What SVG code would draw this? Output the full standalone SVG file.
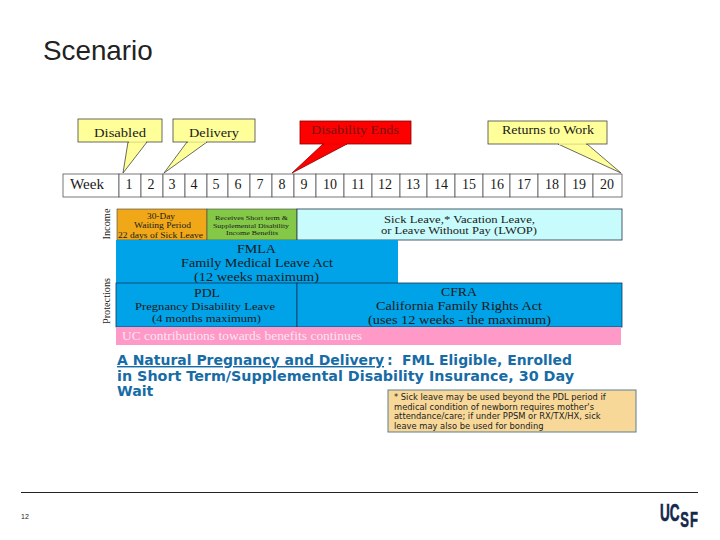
<svg xmlns="http://www.w3.org/2000/svg" width="720" height="540" viewBox="0 0 720 540">
<style>
.s{font-family:"Liberation Serif",serif;fill:#1a1a1a;text-anchor:middle}
.t{font-family:"Liberation Serif",serif;fill:#1a1a1a;text-anchor:start}
.cell{fill:#fff;stroke:#555;stroke-width:.8}
.yl{fill:#ffff99;stroke:#444;stroke-width:.8}
.bl{fill:#00a2e8;stroke:#15385a;stroke-width:.8}
.h{font-family:"DejaVu Sans",sans-serif;font-weight:700;font-size:14.2px;fill:#176ca6}
.n{font-family:"DejaVu Sans",sans-serif;font-size:8.35px;fill:#222}
</style>
<rect width="720" height="540" fill="#fff"/>
<text x="43" y="60" font-family="Liberation Sans,sans-serif" font-size="27.8" fill="#222">Scenario</text>
<g id="week-row">
<rect class="cell" x="63" y="174" width="56" height="23"/>
<g id="week-cells">
<rect class="cell" x="119" y="174" width="22" height="23"/><rect class="cell" x="141" y="174" width="22" height="23"/><rect class="cell" x="163" y="174" width="22" height="23"/><rect class="cell" x="185" y="174" width="22" height="23"/><rect class="cell" x="207" y="174" width="21" height="23"/><rect class="cell" x="228" y="174" width="22" height="23"/><rect class="cell" x="250" y="174" width="22" height="23"/><rect class="cell" x="272" y="174" width="22" height="23"/><rect class="cell" x="294" y="174" width="22" height="23"/><rect class="cell" x="316" y="174" width="28" height="23"/><rect class="cell" x="344" y="174" width="28" height="23"/><rect class="cell" x="372" y="174" width="28" height="23"/><rect class="cell" x="400" y="174" width="27" height="23"/><rect class="cell" x="427" y="174" width="28" height="23"/><rect class="cell" x="455" y="174" width="28" height="23"/><rect class="cell" x="483" y="174" width="27" height="23"/><rect class="cell" x="510" y="174" width="28" height="23"/><rect class="cell" x="538" y="174" width="27" height="23"/><rect class="cell" x="565" y="174" width="28" height="23"/><rect class="cell" x="593" y="174" width="29" height="23"/>
</g>
<g class="s" font-size="14">
<text class="t" x="70" y="189" textLength="34" lengthAdjust="spacingAndGlyphs">Week</text>
<text x="129" y="189">1</text><text x="151" y="189">2</text><text x="172" y="189">3</text><text x="194" y="189">4</text><text x="216" y="189">5</text><text x="238" y="189">6</text><text x="260" y="189">7</text><text x="282" y="189">8</text><text x="304" y="189">9</text><text x="330" y="189">10</text><text x="358" y="189">11</text><text x="385" y="189">12</text><text x="413" y="189">13</text><text x="441" y="189">14</text><text x="469" y="189">15</text><text x="497" y="189">16</text><text x="524" y="189">17</text><text x="552" y="189">18</text><text x="579" y="189">19</text><text x="607" y="189">20</text>
</g>
</g>
<g id="connectors">
<path class="yl" d="M128 142L123 173L147 142Z"/>
<path class="yl" d="M187 142L164 173L207 142Z"/>
<path d="M323 144L292 173L347 144Z" fill="#f00" stroke="#800" stroke-width=".8"/>
<path class="yl" d="M558 144L621 173L587 144Z"/>
</g>
<g id="disabled"><rect class="yl" x="78" y="119" width="84" height="23"/><path d="M129 142H146" stroke="#ffff99" stroke-width="1.6"/><text class="t" x="94" y="137" font-size="13.5" textLength="52" lengthAdjust="spacingAndGlyphs">Disabled</text></g>
<g id="delivery"><rect class="yl" x="173" y="119" width="82" height="23"/><path d="M188 142H206" stroke="#ffff99" stroke-width="1.6"/><text class="t" x="189" y="137" font-size="13.5" textLength="50" lengthAdjust="spacingAndGlyphs">Delivery</text></g>
<g id="disability-ends"><rect x="300" y="121" width="111" height="23" fill="#f00" stroke="#800" stroke-width=".8"/><path d="M324 144H346" stroke="#f00" stroke-width="1.6"/><text class="t" x="311" y="134" font-size="12.5" textLength="88" lengthAdjust="spacingAndGlyphs" style="fill:#7a1010">Disability Ends</text></g>
<g id="returns"><rect class="yl" x="488" y="121" width="119" height="23"/><path d="M559 144H586" stroke="#ffff99" stroke-width="1.6"/><text class="t" x="502" y="134" font-size="12.5" textLength="92" lengthAdjust="spacingAndGlyphs">Returns to Work</text></g>
<g id="income-label"><text class="s" transform="translate(110 224) rotate(-90)" font-size="9.5" textLength="31" lengthAdjust="spacingAndGlyphs">Income</text></g>
<g id="protections-label"><text class="s" transform="translate(110 301) rotate(-90)" font-size="9.5" textLength="46" lengthAdjust="spacingAndGlyphs">Protections</text></g>
<g id="waiting"><rect x="117" y="209" width="90" height="31" fill="#f0a818" stroke="#444" stroke-width=".6"/><g class="t" font-size="8"><text class="t" x="147" y="219" textLength="28" lengthAdjust="spacingAndGlyphs">30-Day</text><text class="t" x="134" y="228" textLength="57" lengthAdjust="spacingAndGlyphs">Waiting Period</text><text class="t" x="118" y="238" textLength="85" lengthAdjust="spacingAndGlyphs">22 days of Sick Leave</text></g></g>
<g id="short-term"><rect x="207" y="209" width="90" height="31" fill="#84c848" stroke="#444" stroke-width=".6"/><g font-size="6.5"><text class="t" x="215" y="220" textLength="73" lengthAdjust="spacingAndGlyphs">Receives Short term &amp;</text><text class="t" x="213" y="228" textLength="76" lengthAdjust="spacingAndGlyphs">Supplemental Disability</text><text class="t" x="226" y="235" textLength="52" lengthAdjust="spacingAndGlyphs">Income Benefits</text></g></g>
<g id="sick-leave"><rect x="297" y="209" width="325" height="31" fill="#c8fcfc" stroke="#234" stroke-width=".8"/><g font-size="10.5"><text class="t" x="384" y="223" textLength="151" lengthAdjust="spacingAndGlyphs">Sick Leave,* Vacation Leave,</text><text class="t" x="381" y="234" textLength="156" lengthAdjust="spacingAndGlyphs">or Leave Without Pay (LWOP)</text></g></g>
<g id="fmla"><rect x="116" y="240" width="282" height="43" fill="#00a2e8"/><g font-size="12.5"><text class="t" x="237" y="253" textLength="39" lengthAdjust="spacingAndGlyphs">FMLA</text><text class="t" x="181" y="267" textLength="152" lengthAdjust="spacingAndGlyphs">Family Medical Leave Act</text><text class="t" x="194" y="281" textLength="125" lengthAdjust="spacingAndGlyphs">(12 weeks maximum)</text></g></g>
<g id="pdl"><rect class="bl" x="116" y="283" width="181" height="44"/><text class="t" x="194" y="297" font-size="12" textLength="26" lengthAdjust="spacingAndGlyphs">PDL</text><text class="t" x="135" y="310" font-size="10.5" textLength="140" lengthAdjust="spacingAndGlyphs">Pregnancy Disability Leave</text><text class="t" x="152" y="322" font-size="10.5" textLength="109" lengthAdjust="spacingAndGlyphs">(4 months maximum)</text></g>
<g id="cfra"><rect class="bl" x="297" y="283" width="325" height="44"/><g font-size="12.5"><text class="t" x="441" y="296" textLength="36" lengthAdjust="spacingAndGlyphs">CFRA</text><text class="t" x="376" y="310" textLength="166" lengthAdjust="spacingAndGlyphs">California Family Rights Act</text><text class="t" x="368" y="324" textLength="183" lengthAdjust="spacingAndGlyphs">(uses 12 weeks - the maximum)</text></g></g>
<g id="contributions"><rect x="116" y="327" width="505" height="18" fill="#ff99c8"/><text x="122" y="340" font-family="Liberation Serif,serif" font-size="11.5" fill="#fbe6f0" textLength="240" lengthAdjust="spacingAndGlyphs">UC contributions towards benefits continues</text></g>
<g id="heading">
<text class="h" x="117" y="365" text-decoration="underline" textLength="267" lengthAdjust="spacingAndGlyphs">A Natural Pregnancy and Delivery</text>
<text class="h" x="387" y="365">:</text>
<text class="h" x="402" y="365" textLength="170" lengthAdjust="spacingAndGlyphs">FML Eligible, Enrolled</text>
<text class="h" x="117" y="381" textLength="457" lengthAdjust="spacingAndGlyphs">in Short Term/Supplemental Disability Insurance, 30 Day</text>
<text class="h" x="117" y="396">Wait</text>
</g>
<g id="note"><rect x="388" y="390" width="248" height="42" fill="#f8d898" stroke="#5a7f90" stroke-width="1"/>
<text class="n" x="394" y="400">* Sick leave may be used beyond the PDL period if</text>
<text class="n" x="394" y="410">medical condition of newborn requires mother's</text>
<text class="n" x="394" y="419">attendance/care; if under PPSM or RX/TX/HX, sick</text>
<text class="n" x="394" y="429">leave may also be used for bonding</text></g>
<path d="M21 492.5H698" stroke="#222" stroke-width="1"/>
<text x="21" y="519" font-family="Liberation Sans,sans-serif" font-size="7" fill="#222">12</text>
<g id="logo">
<text transform="translate(660 521) scale(.59 1)" font-family="Liberation Sans,sans-serif" font-weight="700" font-size="23" fill="#14284b" stroke="#14284b" stroke-width=".6">UC<tspan dy="5.5" dx="1" font-size="22" letter-spacing="2">SF</tspan></text>
</g>
</svg>
